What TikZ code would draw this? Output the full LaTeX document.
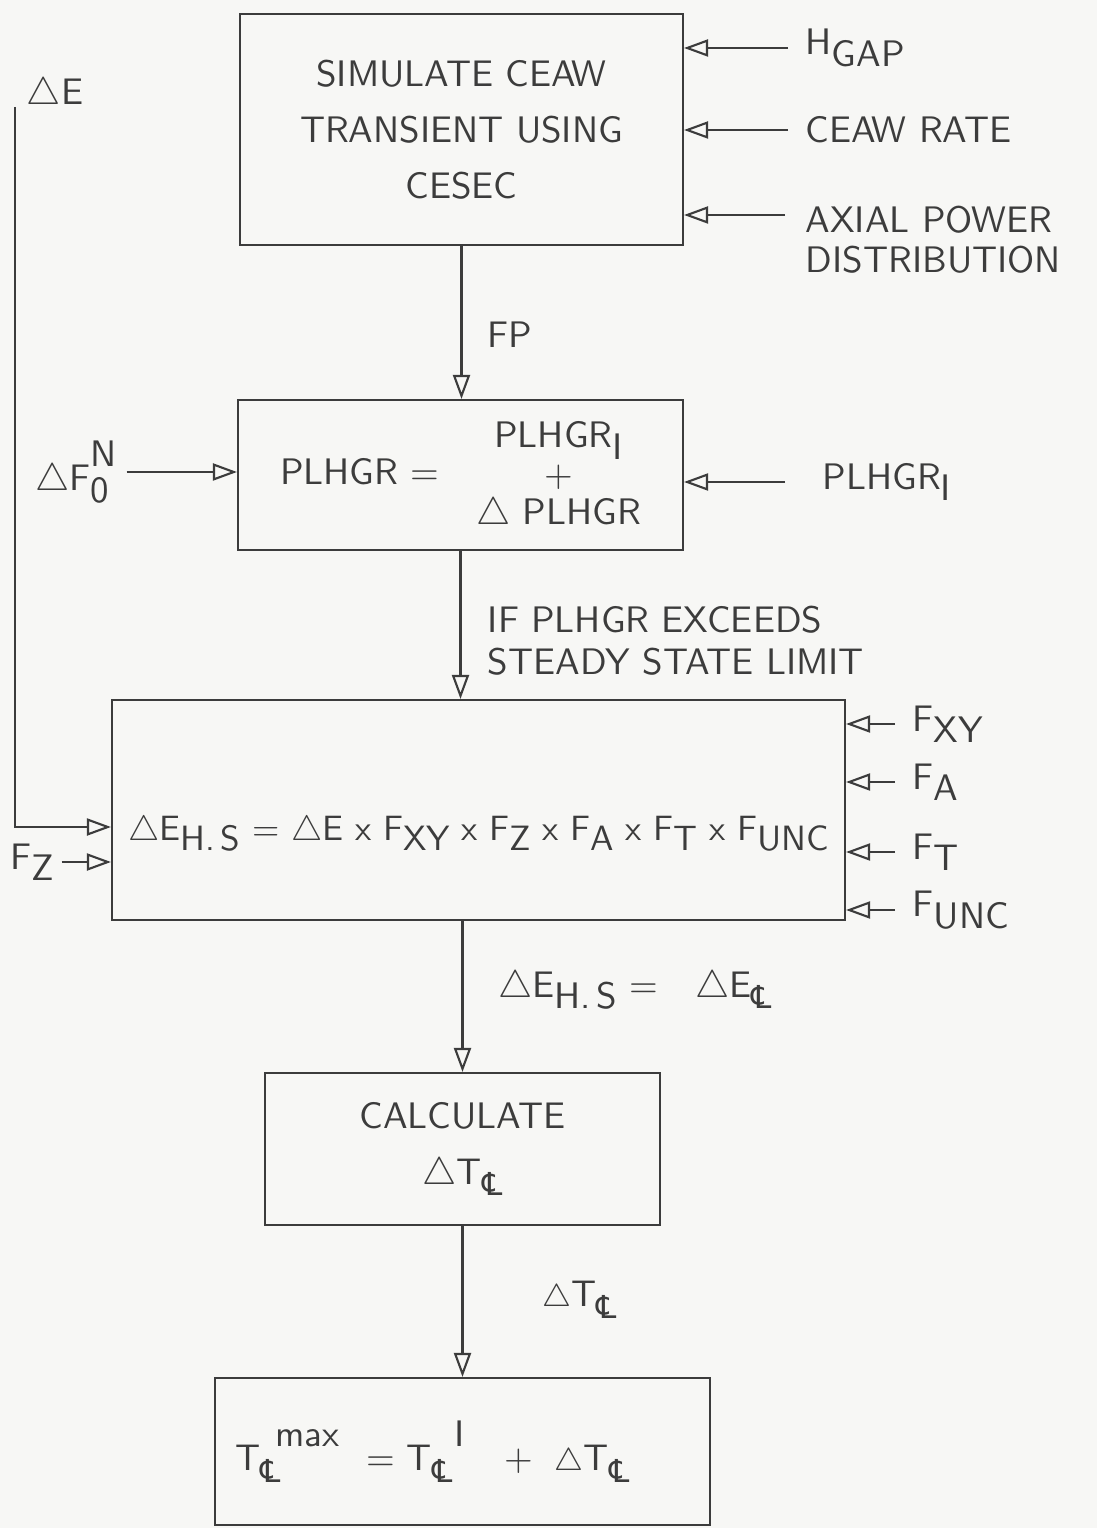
\documentclass[tikz,border=0pt]{standalone}
\usepackage{amsmath,amssymb}
\usepackage{fontspec}
\newfontfamily\symfont{DejaVu Sans}
\definecolor{inkgray}{RGB}{60,60,60}
\definecolor{papergray}{RGB}{247,247,245}
\usetikzlibrary{arrows.meta,positioning,calc}
% lowered / raised text and the centre-line mark
\newcommand{\lo}[1]{\raisebox{-0.7ex}{#1}}
\newcommand{\supsub}[2]{\rlap{\raisebox{1.5ex}{#1}}\raisebox{-0.7ex}{#2}}
\newcommand{\centl}{{\symfont\small ℄}}

\begin{document}
\begin{tikzpicture}[
  x=1cm, y=-1cm,
  every node/.style={font=\fontsize{10.5}{16}\selectfont\sffamily,text=inkgray},
  procbox/.style={draw=inkgray,line width=0.6pt,align=center,inner sep=2pt},
  lbl/.style={inner sep=2pt},
  arr/.style={-{Triangle[open,length=2.4mm,width=1.7mm]},line width=0.6pt,inkgray},
]
  \fill[papergray] (0,0) rectangle (10.97,15.28);
  \useasboundingbox (0,0) rectangle (10.97,15.28);

  % Boxes
  \node[procbox,minimum width=4.43cm,minimum height=2.31cm] (sim) at (4.615,1.295)
    {SIMULATE CEAW\\TRANSIENT USING\\CESEC};
  \node[procbox,minimum width=4.45cm,minimum height=1.50cm] (plhgr) at (4.605,4.75)
    {PLHGR =\quad\begin{tabular}{@{}c@{}}PLHGR\lo{I}\\[-5pt]+\\[-5pt]$\triangle$ PLHGR\end{tabular}};
  \node[procbox,minimum width=7.33cm,minimum height=2.20cm,inner sep=0pt,
        font=\fontsize{10}{14}\selectfont\sffamily] (ehs) at (4.785,8.10)
    {\raisebox{-3mm}[0pt][0pt]{$\triangle$E\lo{H.\,S} = $\triangle$E x F\lo{XY} x F\lo{Z} x F\lo{A} x F\lo{T} x F\lo{UNC}}};
  \node[procbox,minimum width=3.95cm,minimum height=1.52cm] (calc) at (4.625,11.49)
    {CALCULATE\\$\triangle$T\lo{\centl}};
  \node[procbox,minimum width=4.95cm,minimum height=1.47cm] (tmax) at (4.625,14.515)
    {T\supsub{\hspace{0.4em}max}{\centl}\hspace{2.3em}= T\supsub{\hspace{0.6em}I}{\centl}\hspace{1.4em}+\hspace{0.6em}{\small$\triangle$}T\lo{\centl}\hspace*{0.6cm}};

  % Inputs to the first box
  \node[lbl,anchor=west] (hgap) at (7.98,0.48) {H\lo{GAP}};
  \node[lbl,anchor=west] (rate) at (7.98,1.30) {CEAW RATE};
  \node[lbl,anchor=north west,align=left,font=\fontsize{10.5}{11.5}\selectfont\sffamily]
    (axial) at (7.98,1.98) {AXIAL POWER\\DISTRIBUTION};
  \coordinate (axin) at (7.85,2.15);
  \draw[arr,shorten <=1mm] (hgap.west) -- (hgap.west -| sim.east);
  \draw[arr,shorten <=1mm] (rate.west) -- (rate.west -| sim.east);
  \draw[arr] (axin) -- (axin -| sim.east);

  % Feedback line
  \node[lbl] (de) at (0.55,0.95) {$\triangle$E};
  \coordinate (fbtop) at (0.15,1.07);
  \draw[arr] (fbtop) |- ([yshift=-1.7mm]ehs.west);

  % Inputs to the second box
  \node[lbl] (dfn) at (0.72,4.72) {$\triangle$F\supsub{N}{0}};
  \node[lbl,anchor=west] (plhgri) at (8.15,4.82) {PLHGR\lo{I}};
  \draw[arr,shorten <=1mm] (dfn.east) -- (dfn.east -| plhgr.west);
  \draw[arr,shorten <=3mm] (plhgri.west) -- (plhgri.west -| plhgr.east);

  % Inputs to the third box
  \node[lbl] (fz) at (0.32,8.62) {F\lo{Z}};
  \node[lbl,anchor=west] (fxy) at (9.05,7.24) {F\lo{XY}};
  \node[lbl,anchor=west] (fa) at (9.05,7.82) {F\lo{A}};
  \node[lbl,anchor=west] (ft) at (9.05,8.52) {F\lo{T}};
  \node[lbl,anchor=west] (func) at (9.05,9.10) {F\lo{UNC}};
  \draw[arr] (fz.east) -- (fz.east -| ehs.west);
  \draw[arr,shorten <=1mm] (fxy.west) -- (fxy.west -| ehs.east);
  \draw[arr,shorten <=1mm] (fa.west) -- (fa.west -| ehs.east);
  \draw[arr,shorten <=1mm] (ft.west) -- (ft.west -| ehs.east);
  \draw[arr,shorten <=1mm] (func.west) -- (func.west -| ehs.east);

  % Main flow
  \draw[arr] (sim.south) -- (sim.south |- plhgr.north);
  \draw[arr] (plhgr.south) -- (plhgr.south |- ehs.north);
  \draw[arr] (calc.north |- ehs.south) -- (calc.north);
  \draw[arr] (calc.south) -- (calc.south |- tmax.north);

  % Flow labels
  \node[lbl] (fp) at (5.1,3.35) {FP};
  \node[lbl,anchor=west,align=left,font=\fontsize{10.5}{12}\selectfont\sffamily]
    (exceed) at (4.80,6.41) {IF PLHGR EXCEEDS\\STEADY STATE LIMIT};
  \node[lbl] (ecl) at (6.35,9.90) {$\triangle$E\lo{H.\,S} =\quad $\triangle$E\lo{\centl}};
  \node[lbl] (tcl) at (5.80,13.00) {{\small$\triangle$}T\lo{\centl}};
\end{tikzpicture}
\end{document}
